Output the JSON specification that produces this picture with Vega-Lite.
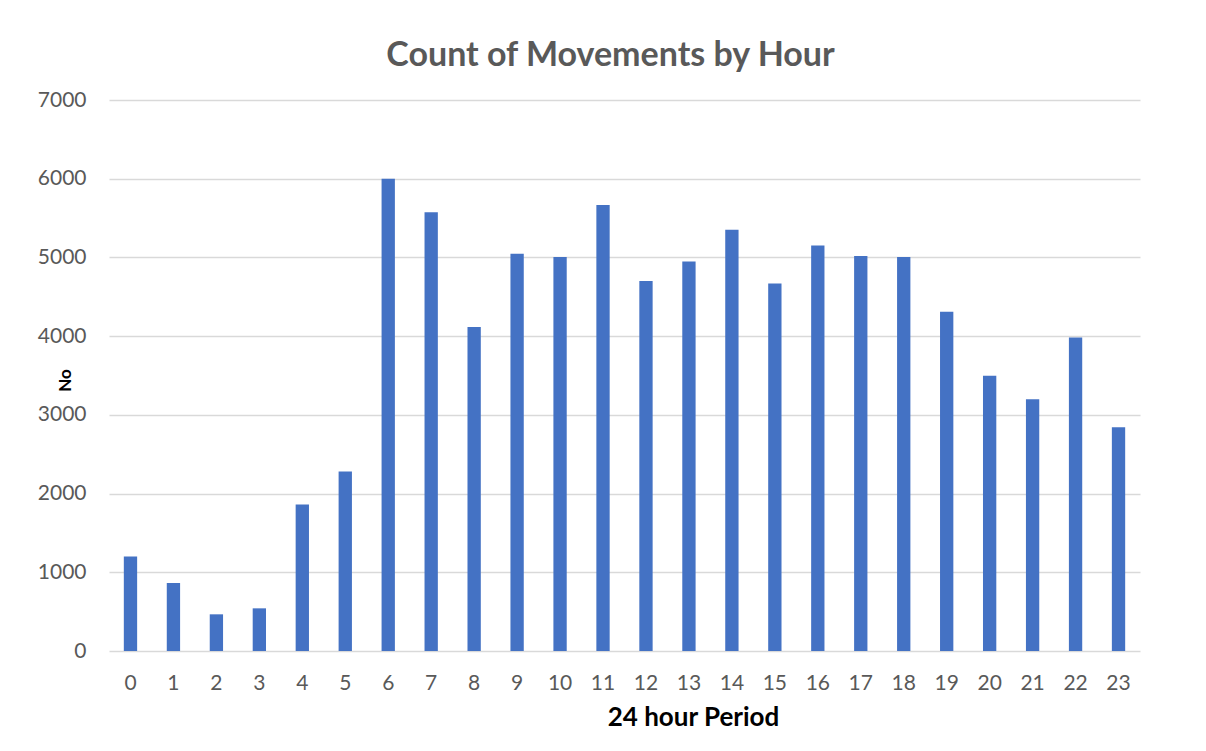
{
  "$schema": "https://vega.github.io/schema/vega-lite/v6.json",
  "width": 1031,
  "height": 551,
  "autosize": {"type": "none"},
  "padding": {"left": 109, "top": 100, "right": 66, "bottom": 100},
  "background": "white",
  "title": {
    "text": "Count of Movements by Hour",
    "font": "Lato",
    "fontSize": 34,
    "fontWeight": "bold",
    "color": "#595959",
    "anchor": "middle",
    "dx": -14,
    "offset": 16
  },
  "data": {
    "values": [
      {"hour": "0", "count": 1200},
      {"hour": "1", "count": 863},
      {"hour": "2", "count": 466},
      {"hour": "3", "count": 542},
      {"hour": "4", "count": 1862},
      {"hour": "5", "count": 2280},
      {"hour": "6", "count": 6000},
      {"hour": "7", "count": 5573},
      {"hour": "8", "count": 4115},
      {"hour": "9", "count": 5046},
      {"hour": "10", "count": 5004},
      {"hour": "11", "count": 5665},
      {"hour": "12", "count": 4699},
      {"hour": "13", "count": 4949},
      {"hour": "14", "count": 5351},
      {"hour": "15", "count": 4668},
      {"hour": "16", "count": 5153},
      {"hour": "17", "count": 5017},
      {"hour": "18", "count": 5004},
      {"hour": "19", "count": 4310},
      {"hour": "20", "count": 3496},
      {"hour": "21", "count": 3199},
      {"hour": "22", "count": 3984},
      {"hour": "23", "count": 2844}
    ]
  },
  "mark": {"type": "bar", "color": "#4472C4"},
  "encoding": {
    "x": {
      "field": "hour",
      "type": "ordinal",
      "sort": null,
      "scale": {"paddingInner": 0.69, "paddingOuter": 0.345},
      "axis": {
        "title": "24 hour Period",
        "titleFont": "Lato",
        "titleFontSize": 26,
        "titleFontWeight": "bold",
        "titleColor": "#000000",
        "titleX": 584,
        "titleY": 53,
        "titleAlign": "center",
        "labelAngle": 0,
        "labelFont": "Lato",
        "labelFontSize": 21,
        "labelColor": "#595959",
        "labelPadding": 21,
        "ticks": false,
        "domain": false,
        "grid": false
      }
    },
    "y": {
      "field": "count",
      "type": "quantitative",
      "scale": {"domain": [0, 7000]},
      "axis": {
        "title": "No",
        "titleFont": "Lato",
        "titleFontSize": 17,
        "titleFontWeight": "bold",
        "titleColor": "#000000",
        "titleAngle": -90,
        "titleX": -44,
        "titleY": 280,
        "titleAlign": "center",
        "titleBaseline": "middle",
        "values": [0, 1000, 2000, 3000, 4000, 5000, 6000, 7000],
        "format": "d",
        "labelFont": "Lato",
        "labelFontSize": 21,
        "labelColor": "#595959",
        "labelPadding": 23,
        "ticks": false,
        "domain": false,
        "grid": true,
        "gridColor": "#d9d9d9",
        "gridWidth": 1.5
      }
    }
  },
  "config": {"view": {"stroke": null}}
}
